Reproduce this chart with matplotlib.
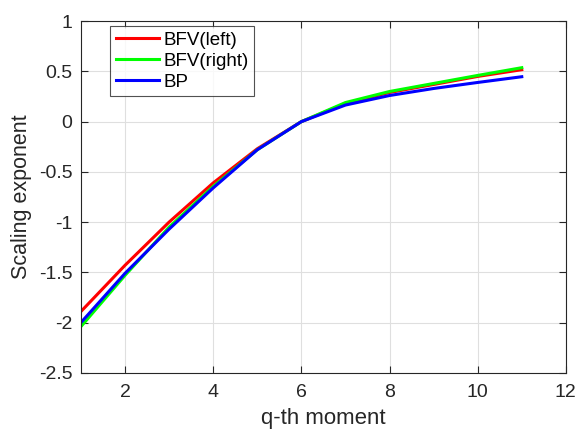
import matplotlib
matplotlib.use("Agg")
import matplotlib.pyplot as plt

plt.rcParams['font.family'] = ['Liberation Sans', 'DejaVu Sans']

# q-th moment and scaling exponents per series
q = [1, 2, 3, 4, 5, 6, 7, 8, 9, 10, 11]
bfv_left = [-1.89, -1.43, -1.00, -0.61, -0.27, 0.00, 0.18, 0.29, 0.37, 0.45, 0.517]
bfv_right = [-2.04, -1.53, -1.05, -0.645, -0.28, 0.00, 0.19, 0.30, 0.38, 0.46, 0.537]
bp = [-2.00, -1.51, -1.07, -0.66, -0.28, 0.00, 0.165, 0.26, 0.33, 0.39, 0.447]

xticks = [2, 4, 6, 8, 10, 12]
yticks = [-2.5, -2, -1.5, -1, -0.5, 0, 0.5, 1]

fig = plt.figure(figsize=(5.78, 4.32), dpi=100)
ax = fig.add_axes([0.140, 0.137, 0.839, 0.814])

ax.plot(q, bfv_left, color=(1, 0, 0), lw=2.2, label='BFV(left)')
ax.plot(q, bfv_right, color=(0, 1, 0), lw=2.2, label='BFV(right)')
ax.plot(q, bp, color=(0, 0, 1), lw=2.2, label='BP')

ax.set_xlim(1, 12)
ax.set_ylim(-2.5, 1)
ax.set_xticks(xticks)
ax.set_yticks(yticks)
ax.set_yticklabels(['-2.5', '-2', '-1.5', '-1', '-0.5', '0', '0.5', '1'])

ax.grid(True, color='#dfdfdf', lw=0.8)
ax.set_axisbelow(True)
for s in ax.spines.values():
    s.set_color('#262626')
    s.set_linewidth(0.8)
ax.tick_params(direction='in', length=5, width=0.8, colors='#262626',
               labelsize=14, top=True, right=True)
ax.tick_params(axis='x', pad=8)
ax.tick_params(axis='y', pad=6)

ax.set_xlabel('q-th moment', fontsize=16, color='#262626', labelpad=5)
ax.set_ylabel('Scaling exponent', fontsize=15.5, color='#262626', labelpad=5)

leg = ax.legend(loc='upper left', bbox_to_anchor=(0.06, 0.986), fontsize=13.5,
                frameon=True, fancybox=False, edgecolor='#262626',
                borderpad=0.3, labelspacing=0.2, handlelength=2.3,
                handletextpad=0.25, borderaxespad=0)
leg.get_frame().set_linewidth(0.8)

fig.savefig('out.png', dpi=100)
